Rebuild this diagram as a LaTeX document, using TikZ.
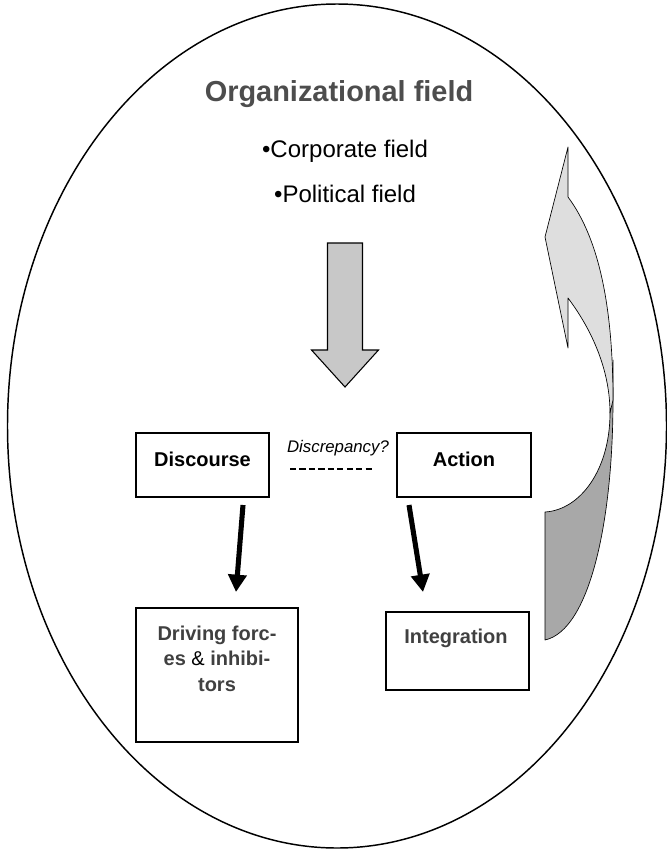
\documentclass[tikz,border=0pt]{standalone}
\usepackage{fontspec}
\setmainfont{Liberation Sans}
\usetikzlibrary{arrows.meta,calc}

\definecolor{titlegray}{HTML}{4D4D4D}
\definecolor{textgray}{HTML}{404040}
\definecolor{blockfill}{HTML}{C8C8C8}
\definecolor{ribbonlight}{HTML}{DEDEDE}
\definecolor{ribbondark}{HTML}{A8A8A8}

\begin{document}
\begin{tikzpicture}[x=0.75pt,y=-0.75pt,
  box/.style={draw=black, line width=1.2pt, inner sep=0pt, outer sep=0pt},
  boxtext/.style={anchor=base, font=\bfseries\fontsize{15}{19.1}\selectfont},
  bullettext/.style={anchor=base, font=\fontsize{18}{22}\selectfont},
  bigarrow/.style={line width=3.8pt, -{Triangle[width=13.5pt,length=13pt]}},
  ribbon/.style={draw=black, line width=0.5pt, line join=round}
]
\useasboundingbox (0,0) rectangle (667,850);

% outer field
\draw[line width=1.1pt] (337,426) ellipse [x radius=329.5, y radius=422];

% headings
\node[anchor=base, text=titlegray, font=\bfseries\fontsize{21.7}{26}\selectfont] (title) at (339,101) {Organizational field};
\node[bullettext] (corp) at (345,157) {•Corporate field};
\node[bullettext] (pol) at (345,202) {•Political field};

% wide downward block arrow
\draw[fill=blockfill, line width=0.8pt, line join=miter]
  (327.5,243) -- (362.5,243) -- (362.5,350) -- (378.5,350) -- (345,387)
  -- (311.5,350) -- (327.5,350) -- cycle;

% boxes
\node[box, minimum width=99.75pt, minimum height=48pt] (disc) at (202.5,465) {};
\node[box, minimum width=100.5pt, minimum height=48pt] (action) at (464,465) {};
\node[box, minimum width=121.5pt, minimum height=100.5pt] (drive) at (217,675) {};
\node[box, minimum width=107.25pt, minimum height=58.5pt] (integ) at (457.5,651) {};

\node[boxtext] (disctxt) at (202.5,466) {Discourse};
\node[boxtext] (acttxt) at (464,466) {Action};
% the base anchor of a multi-line node sits on its last line
\node[boxtext, text=textgray, align=center] (drivetxt) at (217,691)
  {Driving forc-\\es {\mdseries\color{black}\&} inhibi-\\tors};
\node[boxtext, text=textgray] (integtxt) at (456,643) {Integration};

% discrepancy marker
\node[anchor=base, font=\itshape\fontsize{12.6}{15}\selectfont] (discr) at (338,452) {Discrepancy?};
\coordinate (dashA) at ($(disc.east)+(21,4)$);
\coordinate (dashB) at ($(action.west)+(-24,4)$);
\draw[line width=1pt, dash pattern=on 4.6pt off 2.5pt] (dashA) -- (dashB);

% arrows to the lower boxes
\coordinate (lA) at ($(disc.south)+(40.5,8)$);
\coordinate (lB) at ($(drive.north)+(19,-16)$);
\coordinate (rA) at ($(action.south)+(-55,8)$);
\coordinate (rB) at ($(integ.north)+(-34.5,-20)$);
\draw[bigarrow] (lA) -- (lB);
\draw[bigarrow] (rA) -- (rB);

% curved feedback arrow: darker lower band
\draw[ribbon, fill=ribbondark]
  (545,512) -- (545,640)
  .. controls (590,630) and (613,520) .. (613,400)
  -- (613,360) -- (610,413)
  .. controls (610,470) and (580,510) .. (545,512) -- cycle;
% lighter upper band with arrow head
\draw[ribbon, fill=ribbonlight]
  (568,147) -- (545,237) -- (568,348) -- (568,298)
  .. controls (592,330) and (610,370) .. (610,413)
  -- (613,400)
  .. controls (613,310) and (600,240) .. (568,197) -- cycle;
\end{tikzpicture}
\end{document}
